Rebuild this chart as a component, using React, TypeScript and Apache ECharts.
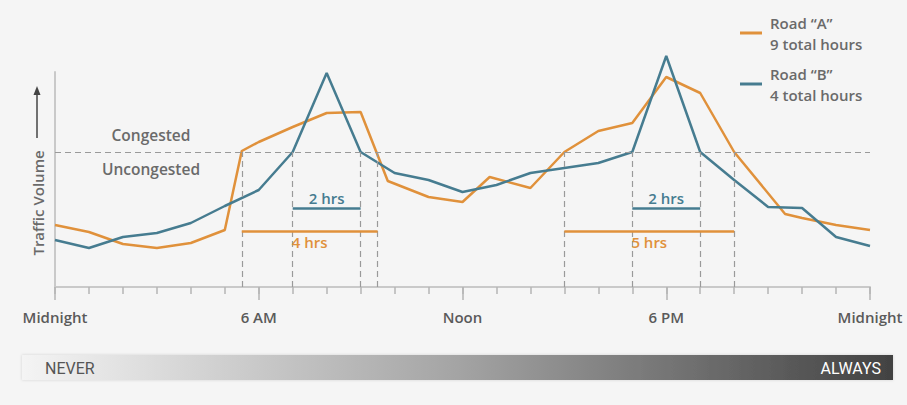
import React, { useEffect, useRef } from "react";
import * as echarts from "echarts";

// Hours of day (x) and traffic volume (y, arbitrary units)
const hoursA = [0, 1, 2, 3, 4, 5, 5.5, 6, 7, 8, 9, 9.8, 11, 12, 12.8, 14, 15, 16, 17, 18, 19, 20, 21.5, 22, 23, 24];
const valuesA = [62, 55, 43, 39, 44, 57, 136, 145, 160, 174, 175, 106, 90, 85, 110, 99, 135, 156, 164, 210, 194, 135, 73, 69, 62, 57];
const hoursB = [0, 1, 2, 3, 4, 5, 6, 7, 8, 9, 10, 11, 12, 13, 14, 15, 16, 17, 18, 19, 20, 21, 22, 23, 24];
const valuesB = [47, 39, 50, 54, 64, 81, 97, 135, 214, 135, 114, 107, 95, 102, 114, 119, 124, 135, 231, 135, 107, 80, 79, 50, 41];

const congestedLevel = 135;
const tickLabels: Record<number, string> = { 0: "Midnight", 6: "6 AM", 12: "Noon", 18: "6 PM", 24: "Midnight" };

// congested periods [start, end, label]
const periodsA: [number, number, string][] = [[5.5, 9.5, "4 hrs"], [15, 20, "5 hrs"]];
const periodsB: [number, number, string][] = [[7, 9, "2 hrs"], [17, 19, "2 hrs"]];
const durationLevelA = 56;
const durationLevelB = 79;

const legendNames: Record<string, string> = {
  "Road “A”": "Road “A”\n9 total hours",
  "Road “B”": "Road “B”\n4 total hours",
};

const ORANGE = "#e0913b";
const BLUE = "#467c90";
const GRAY_TEXT = "#6a6a6a";
const FONT = "'Open Sans', 'DejaVu Sans', sans-serif";
const WEIGHT = 600;

export default function App() {
  const ref = useRef<HTMLDivElement>(null);
  useEffect(() => {
    if (!ref.current) return;
    const chart = echarts.init(ref.current, null, { renderer: "svg" });

    const dashStyle = { color: "#9a9a9a", type: [6, 4] as any, width: 1.2 };
    const verticals: any[] = [];
    [...periodsA, ...periodsB].forEach(([s, e]) => {
      [s, e].forEach((x) => {
        verticals.push([
          { coord: [x, 0], lineStyle: dashStyle, label: { show: false } },
          { coord: [x, congestedLevel] },
        ]);
      });
    });

    const durLines = (periods: [number, number, string][], level: number, color: string, pos: string) =>
      periods.map(([s, e, t]) => [
        {
          coord: [s, level],
          lineStyle: { color, width: 2.5, type: "solid" },
          label: {
            show: true,
            formatter: t,
            position: pos,
            distance: 3,
            color,
            fontSize: 15,
            fontWeight: WEIGHT,
            fontFamily: FONT,
          },
        },
        { coord: [e, level] },
      ]);

    const option: any = {
      animation: false,
      backgroundColor: "#f5f5f5",
      grid: { left: 55, right: 37, top: 72, bottom: 118 },
      legend: {
        orient: "vertical",
        left: 735,
        top: 7,
        itemWidth: 22,
        itemHeight: 3,
        itemGap: 9,
        icon: "rect",
        formatter: (n: string) => legendNames[n] || n,
        textStyle: {
          color: GRAY_TEXT,
          fontSize: 15,
          fontWeight: WEIGHT,
          lineHeight: 21,
          fontFamily: FONT,
          padding: [0, 0, 0, 3],
        },
        data: ["Road “A”", "Road “B”"],
      },
      xAxis: [
        {
          type: "value",
          min: 0,
          max: 24,
          interval: 1,
          axisLine: { show: true, lineStyle: { color: "#c9c9c9", width: 2 } },
          axisTick: { show: true, length: 7, lineStyle: { color: "#b5b5b5", width: 1.5 } },
          axisLabel: { show: false },
          splitLine: { show: false },
        },
        {
          type: "value",
          min: 0,
          max: 24,
          interval: 6,
          position: "bottom",
          axisLine: { show: false },
          axisTick: { show: true, length: 13, lineStyle: { color: "#b5b5b5", width: 1.5 } },
          axisLabel: {
            show: true,
            margin: 22,
            color: "#5a5a5a",
            fontSize: 15,
            fontWeight: WEIGHT,
            fontFamily: FONT,
            formatter: (v: number) => tickLabels[v] ?? "",
          },
          splitLine: { show: false },
        },
      ],
      yAxis: {
        type: "value",
        min: 0,
        max: 215,
        axisLine: { show: true, lineStyle: { color: "#c9c9c9", width: 2 } },
        axisTick: { show: false },
        axisLabel: { show: false },
        splitLine: { show: false },
      },
      series: [
        {
          name: "Road “A”",
          type: "line",
          clip: false,
          symbol: "none",
          color: ORANGE,
          lineStyle: { color: ORANGE, width: 2.5 },
          data: hoursA.map((h, i) => [h, valuesA[i]]),
          z: 3,
          markLine: {
            symbol: "none",
            silent: true,
            label: { show: false },
            data: [
              { yAxis: congestedLevel, lineStyle: dashStyle, label: { show: false } },
              ...verticals,
              ...durLines(periodsA, durationLevelA, ORANGE, "insideMiddleBottom"),
            ],
          },
        },
        {
          name: "Road “B”",
          type: "line",
          clip: false,
          symbol: "none",
          color: BLUE,
          lineStyle: { color: BLUE, width: 2.5 },
          data: hoursB.map((h, i) => [h, valuesB[i]]),
          z: 4,
          markLine: {
            symbol: "none",
            silent: true,
            data: durLines(periodsB, durationLevelB, BLUE, "insideMiddleTop"),
          },
        },
      ],
      graphic: [
        {
          type: "text",
          x: 151,
          y: 135,
          style: {
            text: "Congested",
            fill: GRAY_TEXT,
            fontSize: 15.5,
            fontWeight: WEIGHT,
            fontFamily: FONT,
            align: "center",
            verticalAlign: "middle",
          },
        },
        {
          type: "text",
          x: 151,
          y: 169,
          style: {
            text: "Uncongested",
            fill: GRAY_TEXT,
            fontSize: 15.5,
            fontWeight: WEIGHT,
            fontFamily: FONT,
            align: "center",
            verticalAlign: "middle",
          },
        },
        {
          type: "text",
          x: 38,
          y: 203,
          rotation: Math.PI / 2,
          style: {
            text: "Traffic Volume",
            fill: GRAY_TEXT,
            fontSize: 15,
            fontWeight: WEIGHT,
            fontFamily: FONT,
            align: "center",
            verticalAlign: "middle",
          },
        },
        {
          type: "line",
          shape: { x1: 37, y1: 138, x2: 37, y2: 93 },
          style: { stroke: "#444", lineWidth: 1.5 },
        },
        {
          type: "polygon",
          shape: { points: [[37, 86], [33.5, 95], [40.5, 95]] },
          style: { fill: "#444" },
        },
        {
          type: "rect",
          shape: { x: 22, y: 355, width: 871, height: 25 },
          style: {
            fill: new echarts.graphic.LinearGradient(0, 0, 1, 0, [
              { offset: 0, color: "#f4f4f4" },
              { offset: 0.5, color: "#a4a4a4" },
              { offset: 1, color: "#424242" },
            ]),
            shadowBlur: 3,
            shadowColor: "rgba(0,0,0,0.15)",
          },
        },
        {
          type: "text",
          x: 45,
          y: 368,
          style: {
            text: "NEVER",
            fill: "#555",
            fontSize: 16,
            fontFamily: "'Roboto', sans-serif",
            verticalAlign: "middle",
          },
        },
        {
          type: "text",
          x: 881,
          y: 368,
          style: {
            text: "ALWAYS",
            fill: "#fff",
            fontSize: 16,
            fontFamily: "'Roboto', sans-serif",
            align: "right",
            verticalAlign: "middle",
          },
        },
      ],
    };
    chart.setOption(option);
    return () => chart.dispose();
  }, []);
  return (
    <div
      ref={ref}
      style={{ position: "absolute", left: 0, top: 0, width: 907, height: 405, background: "#f5f5f5" }}
    />
  );
}
